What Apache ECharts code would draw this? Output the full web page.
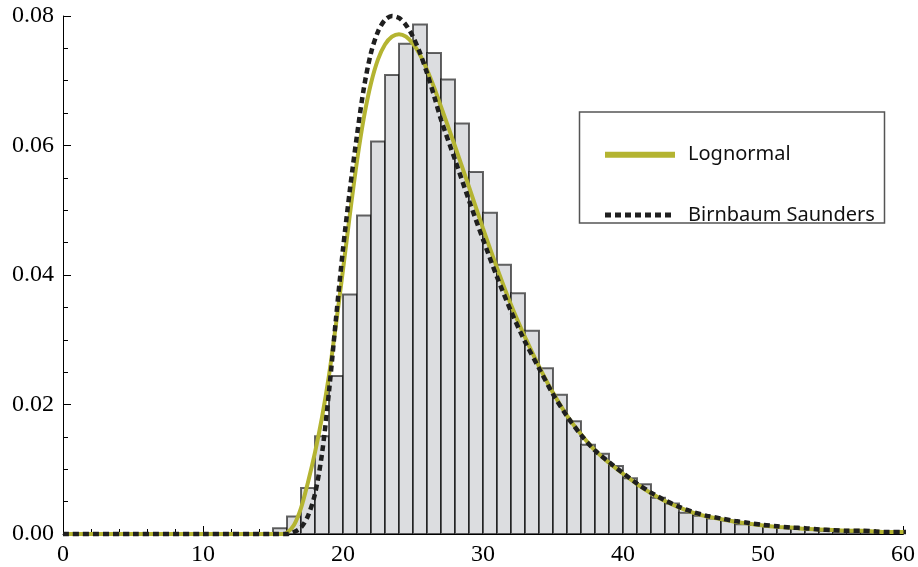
<!DOCTYPE html>
<html>
<head>
<meta charset="utf-8">
<script src="https://cdn.jsdelivr.net/npm/echarts@6/dist/echarts.min.js"></script>
<style>
  html, body { margin: 0; padding: 0; background: #fff; }
  #chart { width: 918px; height: 567px; }
</style>
</head>
<body>
<div id="chart"></div>
<script>
// histogram bins (left edge, width 1) and densities
const binStarts = [15, 16, 17, 18, 19, 20, 21, 22, 23, 24, 25, 26, 27, 28, 29, 30, 31, 32, 33, 34, 35, 36, 37,
  38, 39, 40, 41, 42, 43, 44, 45, 46, 47, 48, 49, 50, 51, 52, 53, 54, 55, 56, 57, 58, 59]
const binDensity = [0.0009, 0.0027, 0.0071, 0.0151, 0.0244, 0.0370, 0.0492, 0.0606, 0.0709, 0.0757, 0.0787,
  0.0743, 0.0702, 0.0634, 0.0559, 0.0496, 0.0416, 0.0372, 0.0314, 0.0256, 0.0215, 0.0174, 0.0138, 0.0124,
  0.0105, 0.0086, 0.0077, 0.0056, 0.0047, 0.0033, 0.0028, 0.0024, 0.0021, 0.0015, 0.0014, 0.0011, 0.0010,
  0.0008, 0.0007, 0.0005, 0.0004, 0.0003, 0.0003, 0.0002, 0.0002]
const binWidth = 1

// fitted curves
const lognormalPts = [[0, 0], [5, 0], [10, 0], [15, 0], [15.7, 0], [16, 0.0002], [16.5, 0.0014], [17, 0.0040],
  [17.5, 0.0080], [18, 0.0126], [18.5, 0.0180], [19, 0.0245], [19.5, 0.0324], [20, 0.0408], [20.5, 0.0495],
  [21, 0.0576], [21.5, 0.0644], [22, 0.0696], [22.5, 0.0733], [23, 0.0756], [23.5, 0.0768], [24, 0.0772],
  [24.5, 0.0768], [25, 0.0757], [25.5, 0.0740], [26, 0.0717], [26.5, 0.0690], [27, 0.0660], [28, 0.0599],
  [29, 0.0536], [30, 0.0472], [31, 0.0411], [32, 0.0354], [33, 0.0304], [34, 0.0259], [35, 0.0218],
  [36, 0.0183], [37, 0.0154], [38, 0.0129], [39, 0.0110], [40, 0.0093], [41, 0.0077], [42, 0.0063],
  [43, 0.0051], [44, 0.0041], [45, 0.0033], [46, 0.0027], [47, 0.0023], [48, 0.0019], [49, 0.0016],
  [50, 0.0013], [51, 0.0011], [52, 0.0010], [53, 0.0008], [54, 0.0007], [55, 0.0006], [56, 0.0005],
  [57, 0.0005], [58, 0.0004], [59, 0.0003], [60, 0.0003], [61, 0.0002]]
const birnbaumPts = [[0, 0], [5, 0], [10, 0], [15, 0], [16, 0], [16.5, 0.0003], [17, 0.0010], [17.5, 0.0028],
  [18, 0.0062], [18.5, 0.0124], [19, 0.0220], [19.5, 0.0333], [20, 0.0440], [20.5, 0.0533], [21, 0.0616],
  [21.5, 0.0690], [22, 0.0743], [22.5, 0.0776], [23, 0.0794], [23.5, 0.0800], [24, 0.0797], [24.5, 0.0786],
  [25, 0.0768], [25.5, 0.0743], [26, 0.0712], [26.5, 0.0677], [27, 0.0640], [28, 0.0578], [29, 0.0515],
  [30, 0.0455], [31, 0.0397], [32, 0.0344], [33, 0.0297], [34, 0.0256], [35, 0.0216], [36, 0.0182],
  [37, 0.0153], [38, 0.0129], [39, 0.0111], [40, 0.0094], [41, 0.0078], [42, 0.0064], [43, 0.0052],
  [44, 0.0042], [45, 0.0034], [46, 0.0028], [47, 0.0024], [48, 0.0020], [49, 0.0017], [50, 0.0014],
  [51, 0.0012], [52, 0.0010], [53, 0.0009], [54, 0.0007], [55, 0.0006], [56, 0.0005], [57, 0.0005],
  [58, 0.0004], [59, 0.0003], [60, 0.0003], [61, 0.0002]]

const yTicks = ['0.00', '0.02', '0.04', '0.06', '0.08']

const myChart = echarts.init(document.getElementById('chart'))

const histData = binStarts.map((s, i) => [s, binDensity[i]])

const option = {
  backgroundColor: '#fff',
  animation: false,
  grid: { left: 63, right: 15, top: 16, bottom: 32.5 },
  xAxis: {
    type: 'value',
    min: 0,
    max: 60,
    interval: 10,
    axisLine: { lineStyle: { color: '#000', width: 1 } },
    axisTick: { inside: true, length: 8, lineStyle: { color: '#000' } },
    minorTick: { show: true, splitNumber: 5, length: 5, lineStyle: { color: '#000' } },
    splitLine: { show: false },
    axisLabel: { color: '#000', fontFamily: 'Liberation Serif', fontSize: 24, margin: 9 }
  },
  yAxis: {
    type: 'value',
    min: 0,
    max: 0.08,
    interval: 0.02,
    axisLine: { show: true, lineStyle: { color: '#000', width: 1 } },
    axisTick: { show: true, inside: true, length: 8, lineStyle: { color: '#000' } },
    minorTick: { show: true, splitNumber: 4, length: 5, lineStyle: { color: '#000' } },
    splitLine: { show: false },
    axisLabel: {
      color: '#000', fontFamily: 'Liberation Serif', fontSize: 24, margin: 9,
      formatter: v => yTicks[Math.round(v / 0.02)]
    }
  },
  legend: {
    data: [
      { name: 'Lognormal', lineStyle: { width: 6 } },
      { name: 'Birnbaum Saunders', lineStyle: { width: 5 } }
    ],
    orient: 'vertical',
    left: 602,
    top: 144.7,
    padding: 0,
    itemWidth: 70,
    itemHeight: 14,
    itemGap: 40.3,
    itemStyle: { opacity: 0 },
    textStyle: { color: '#111', fontFamily: 'Noto Sans', fontSize: 20, padding: [0, 0, 0, 8] }
  },
  graphic: [{
    type: 'rect',
    left: 577,
    top: 109.5,
    shape: { width: 305, height: 111 },
    style: { fill: 'none', stroke: '#555', lineWidth: 1.5 },
    z: 10
  }],
  series: [
    {
      name: 'hist',
      type: 'custom',
      data: histData,
      encode: { x: 0, y: 1 },
      renderItem: function (params, api) {
        const x0 = api.value(0)
        const h = api.value(1)
        const p0 = api.coord([x0, h])
        const p1 = api.coord([x0 + binWidth, 0])
        return {
          type: 'rect',
          shape: { x: p0[0], y: p0[1], width: p1[0] - p0[0], height: p1[1] - p0[1] },
          style: { fill: '#dcdde0', stroke: 'rgba(0,0,0,0.6)', lineWidth: 2 }
        }
      },
      z: 2
    },
    {
      name: 'Lognormal',
      type: 'line',
      data: lognormalPts,
      showSymbol: false,
      symbol: 'none',
      smooth: 0.3,
      clip: false,
      lineStyle: { color: '#b4b431', width: 4 },
      itemStyle: { color: '#b4b431' },
      z: 3
    },
    {
      name: 'Birnbaum Saunders',
      type: 'line',
      data: birnbaumPts,
      showSymbol: false,
      symbol: 'none',
      smooth: 0.3,
      clip: false,
      lineStyle: { color: '#1f1f1f', width: 4.5, type: [6, 4] },
      itemStyle: { color: '#1f1f1f' },
      z: 4
    }
  ]
}

myChart.setOption(option)
window.addEventListener('resize', myChart.resize)
</script>
</body>
</html>
